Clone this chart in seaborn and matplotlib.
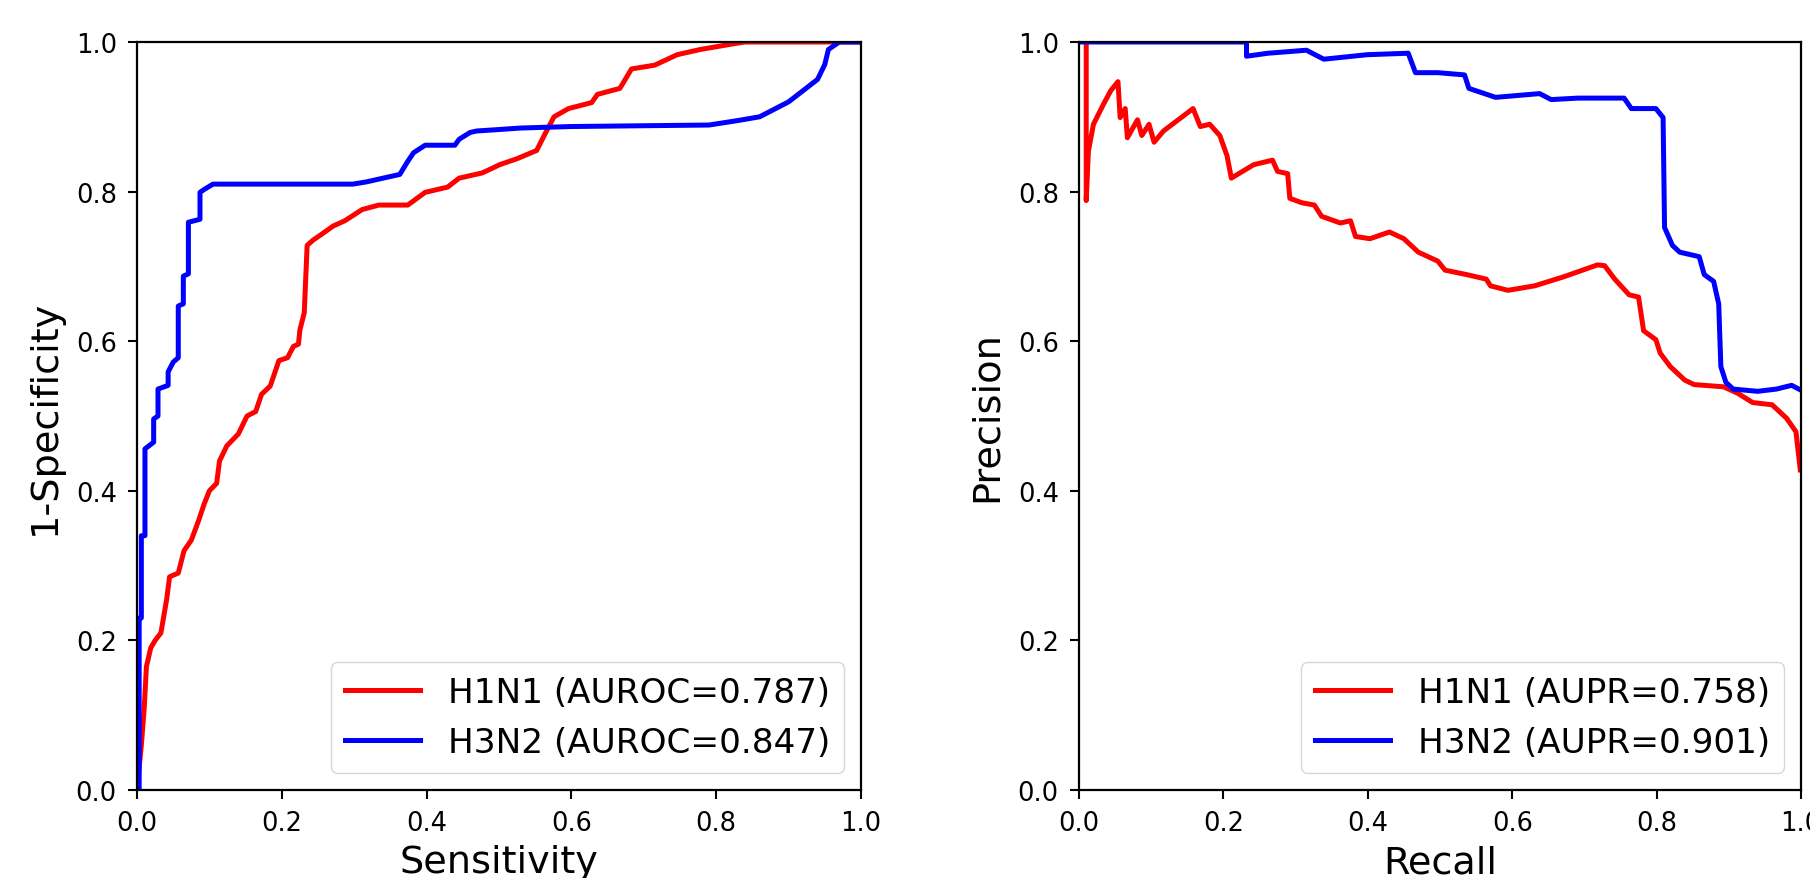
import matplotlib
matplotlib.use("Agg")
import matplotlib.pyplot as plt
import seaborn as sns

# ROC curves
roc_h1n1_x = [0.0, 0.006, 0.01, 0.013, 0.019, 0.025, 0.033, 0.041, 0.045, 0.057, 0.065, 0.075, 0.085, 0.093,
              0.10, 0.11, 0.114, 0.124, 0.14, 0.152, 0.164, 0.172, 0.184, 0.196, 0.208, 0.216, 0.223, 0.225,
              0.231, 0.235, 0.243, 0.255, 0.271, 0.287, 0.311, 0.334, 0.374, 0.398, 0.429, 0.445, 0.477, 0.501,
              0.525, 0.552, 0.564, 0.576, 0.596, 0.628, 0.636, 0.667, 0.683, 0.715, 0.746, 0.778, 0.826, 0.84, 1.0]
roc_h1n1_y = [0.0, 0.06, 0.11, 0.165, 0.19, 0.20, 0.21, 0.255, 0.285, 0.29, 0.32, 0.334, 0.36, 0.383,
              0.40, 0.41, 0.44, 0.46, 0.476, 0.50, 0.506, 0.529, 0.54, 0.574, 0.578, 0.593, 0.596, 0.615,
              0.638, 0.728, 0.735, 0.743, 0.754, 0.761, 0.776, 0.782, 0.782, 0.799, 0.806, 0.818, 0.825, 0.836,
              0.844, 0.855, 0.878, 0.90, 0.911, 0.919, 0.93, 0.938, 0.964, 0.969, 0.983, 0.99, 0.998, 1.0, 1.0]

roc_h3n2_x = [0, 0.003, 0.003, 0.006, 0.006, 0.011, 0.011, 0.023, 0.023, 0.029, 0.029, 0.043, 0.043, 0.050,
              0.057, 0.057, 0.064, 0.064, 0.071, 0.071, 0.087, 0.087, 0.093, 0.105, 0.298, 0.317, 0.340, 0.363,
              0.373, 0.382, 0.398, 0.439, 0.445, 0.460, 0.469, 0.50, 0.53, 0.60, 0.79, 0.83, 0.86, 0.88, 0.90,
              0.92, 0.94, 0.95, 0.955, 0.97, 1.0]
roc_h3n2_y = [0, 0.0, 0.23, 0.23, 0.34, 0.34, 0.456, 0.465, 0.496, 0.50, 0.536, 0.541, 0.559, 0.572,
              0.578, 0.647, 0.65, 0.687, 0.69, 0.759, 0.763, 0.799, 0.803, 0.81, 0.81, 0.813, 0.818, 0.823,
              0.839, 0.852, 0.862, 0.862, 0.870, 0.879, 0.881, 0.883, 0.885, 0.887, 0.889, 0.895, 0.90, 0.91, 0.92,
              0.935, 0.95, 0.97, 0.99, 1.0, 1.0]

# PR curves
pr_h1n1_x = [0.01, 0.01, 0.013, 0.02, 0.034, 0.044, 0.054, 0.057, 0.064, 0.067, 0.081, 0.087, 0.097, 0.104,
             0.117, 0.158, 0.168, 0.181, 0.195, 0.205, 0.211, 0.242, 0.268, 0.275, 0.289, 0.292, 0.309, 0.326,
             0.336, 0.362, 0.376, 0.383, 0.403, 0.43, 0.45, 0.47, 0.497, 0.507, 0.537, 0.564, 0.570, 0.594,
             0.631, 0.671, 0.718, 0.728, 0.742, 0.762, 0.775, 0.782, 0.799, 0.805, 0.819, 0.839, 0.852, 0.893,
             0.913, 0.933, 0.960, 0.980, 0.993, 0.999]
pr_h1n1_y = [1.0, 0.788, 0.854, 0.89, 0.917, 0.935, 0.947, 0.899, 0.911, 0.872, 0.896, 0.875, 0.89, 0.866,
             0.881, 0.911, 0.887, 0.89, 0.875, 0.848, 0.818, 0.836, 0.842, 0.827, 0.824, 0.791, 0.785, 0.782,
             0.767, 0.758, 0.761, 0.74, 0.737, 0.746, 0.737, 0.719, 0.707, 0.695, 0.689, 0.683, 0.674, 0.668,
             0.674, 0.686, 0.702, 0.701, 0.683, 0.662, 0.659, 0.614, 0.602, 0.584, 0.566, 0.548, 0.542, 0.539,
             0.530, 0.518, 0.515, 0.497, 0.479, 0.428]

pr_h3n2_x = [0.0, 0.232, 0.232, 0.262, 0.315, 0.339, 0.399, 0.456, 0.466, 0.497, 0.534, 0.540, 0.577, 0.638,
             0.654, 0.691, 0.755, 0.765, 0.799, 0.809, 0.811, 0.822, 0.832, 0.859, 0.866, 0.879, 0.886, 0.889,
             0.896, 0.906, 0.940, 0.966, 0.987, 0.999]
pr_h3n2_y = [1.0, 1.0, 0.981, 0.985, 0.989, 0.977, 0.983, 0.985, 0.959, 0.959, 0.956, 0.938, 0.926, 0.931,
             0.923, 0.925, 0.925, 0.911, 0.911, 0.899, 0.752, 0.728, 0.719, 0.713, 0.689, 0.680, 0.650, 0.566,
             0.545, 0.536, 0.533, 0.536, 0.541, 0.535]

auroc = {"H1N1": 0.787, "H3N2": 0.847}
aupr = {"H1N1": 0.758, "H3N2": 0.901}
colors = {"H1N1": "red", "H3N2": "blue"}

fig = plt.figure(figsize=(18.1, 8.79), dpi=100)
ax1 = fig.add_axes([137 / 1810, 88 / 879, 724 / 1810, 748 / 879])
ax2 = fig.add_axes([1079 / 1810, 88 / 879, 722 / 1810, 748 / 879])

lw = 3.6
sns.lineplot(x=roc_h1n1_x, y=roc_h1n1_y, sort=False, estimator=None, color=colors["H1N1"], linewidth=lw,
             label="H1N1 (AUROC=%.3f)" % auroc["H1N1"], ax=ax1)
sns.lineplot(x=roc_h3n2_x, y=roc_h3n2_y, sort=False, estimator=None, color=colors["H3N2"], linewidth=lw,
             label="H3N2 (AUROC=%.3f)" % auroc["H3N2"], ax=ax1)
sns.lineplot(x=pr_h1n1_x, y=pr_h1n1_y, sort=False, estimator=None, color=colors["H1N1"], linewidth=lw,
             label="H1N1 (AUPR=%.3f)" % aupr["H1N1"], ax=ax2)
sns.lineplot(x=pr_h3n2_x, y=pr_h3n2_y, sort=False, estimator=None, color=colors["H3N2"], linewidth=lw,
             label="H3N2 (AUPR=%.3f)" % aupr["H3N2"], ax=ax2)

for ax, xl, yl in [(ax1, "Sensitivity", "1-Specificity"), (ax2, "Recall", "Precision")]:
    ax.set_xlim(0, 1)
    ax.set_ylim(0, 1)
    ax.set_xticks([0, 0.2, 0.4, 0.6, 0.8, 1.0])
    ax.set_yticks([0, 0.2, 0.4, 0.6, 0.8, 1.0])
    ax.tick_params(labelsize=18.5, length=6.5, width=1.5, pad=8)
    for s in ax.spines.values():
        s.set_linewidth(1.6)
    ax.set_xlabel(xl, fontsize=27.5, labelpad=6)
    ax.set_ylabel(yl, fontsize=27.5, labelpad=9)
    ax.legend(loc="lower right", fontsize=24.7, handlelength=2.2)

fig.savefig("out.png", dpi=100)
